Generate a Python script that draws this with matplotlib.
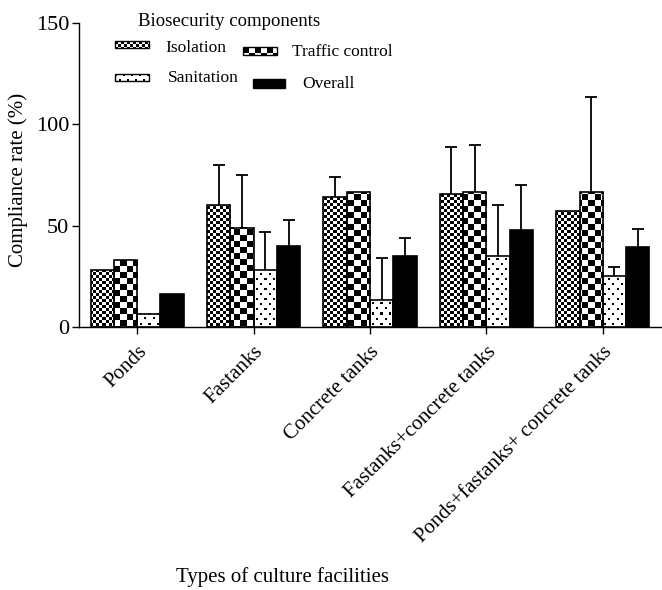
import numpy as np
import matplotlib
matplotlib.use("Agg")
import matplotlib.pyplot as plt
from matplotlib.patches import Rectangle

plt.rcParams["font.family"] = ["Liberation Serif", "DejaVu Serif"]

# data
facilities = ["Ponds", "Fastanks", "Concrete tanks",
              "Fastanks+concrete tanks", "Ponds+fastanks+ concrete tanks"]
components = ["Isolation", "Traffic control", "Sanitation", "Overall"]

isolation = [28, 60, 64, 65.5, 57]
traffic = [33, 49, 66.5, 66.5, 66.5]
sanitation = [6.5, 28, 13.5, 35, 25]
overall = [16.5, 40, 35, 48, 39.5]

nan = np.nan
isolation_sd = [nan, 20, 10, 23.5, nan]
traffic_sd = [nan, 26, nan, 23.5, 47]
sanitation_sd = [nan, 19, 20.5, 25, 4.5]
overall_sd = [nan, 13, 9, 22, 9]

means = [isolation, traffic, sanitation, overall]
sds = [isolation_sd, traffic_sd, sanitation_sd, overall_sd]
kinds = ["fine", "coarse", "dots", "solid"]


def pattern(kind, w, h, ox=0, oy=0):
    yy, xx = np.mgrid[0:h, 0:w]
    xx = xx + ox
    yy = yy + oy
    if kind == "fine":
        return ((xx // 3 + yy // 3) % 2).astype(float)
    if kind == "coarse":
        return ((xx // 6 + yy // 6) % 2).astype(float)
    if kind == "dots":
        shift = 4 * ((yy // 5) % 2)
        dot = ((yy % 5) < 2) & (((xx + shift) % 8) < 2)
        return np.where(dot, 0.0, 1.0)
    return np.zeros((h, w))


W, H = 662, 590
fig = plt.figure(figsize=(W / 100, H / 100), dpi=100)
ax = fig.add_axes([79 / W, 1 - 327 / H, 582 / W, 304 / H])

xlim = (-0.5, 4.5)
ylim = (0, 150)
ax.set_xlim(*xlim)
ax.set_ylim(*ylim)

x = np.arange(len(facilities))
width = 0.2

for i, (vals, err, kind) in enumerate(zip(means, sds, kinds)):
    pos = x + (i - 1.5) * width
    face = "black" if kind == "solid" else "none"
    bars = ax.bar(pos, vals, width, facecolor=face, edgecolor="black",
                  linewidth=1.2, zorder=3)
    if kind != "solid":
        for rect in bars:
            x0, w, h = rect.get_x(), rect.get_width(), rect.get_height()
            p0 = ax.transData.transform((x0, 0))
            p1 = ax.transData.transform((x0 + w, h))
            npx = max(int(round(p1[0] - p0[0])), 1)
            npy = max(int(round(p1[1] - p0[1])), 1)
            arr = pattern(kind, npx, npy, int(round(p0[0])), int(round(p0[1])))
            ax.imshow(arr, extent=(x0, x0 + w, 0, h), origin="lower",
                      cmap="gray", vmin=0, vmax=1, interpolation="nearest",
                      aspect="auto", zorder=2)
    vals = np.array(vals, dtype=float)
    err = np.array(err, dtype=float)
    eb = ax.errorbar(pos, vals, yerr=[np.zeros_like(err), err], fmt="none",
                     ecolor="black", elinewidth=1.3, capsize=4.5,
                     capthick=1.3, zorder=4)
    for cap in eb[1]:
        if np.allclose(cap.get_ydata(), vals):
            cap.set_visible(False)

ax.set_xlim(*xlim)
ax.set_ylim(*ylim)

for side in ["top", "right"]:
    ax.spines[side].set_visible(False)
for side in ["left", "bottom"]:
    ax.spines[side].set_linewidth(1.0)

ax.set_yticks([0, 50, 100, 150])
ax.set_xticks(x)
ax.set_xticklabels(facilities, rotation=45, ha="right", rotation_mode="anchor")
ax.tick_params(axis="both", direction="out", length=5, width=1.0,
               labelsize=15)
ax.tick_params(axis="x", pad=6)
ax.tick_params(axis="y", pad=2, labelsize=16)

fig.text(18 / W, 1 - 180 / H, "Compliance rate (%)", rotation=90,
         ha="center", va="center", fontsize=15)
fig.text(282 / W, 1 - 577 / H, "Types of culture facilities",
         ha="center", va="center", fontsize=15)

# legend drawn by hand, like the original layout
fig.text(138 / W, 1 - 22 / H, "Biosecurity components", ha="left",
         va="center", fontsize=13.5)

swatches = [
    ("fine", 115, 41, 34, 7, "Isolation", 165, 48),
    ("coarse", 243, 47, 34, 8, "Traffic control", 292, 52),
    ("dots", 115, 74, 34, 7, "Sanitation", 168, 78),
    ("solid", 253, 79, 32, 9, "Overall", 302, 84),
]
for kind, sx, sy, sw, sh, label, tx, ty in swatches:
    arr = pattern(kind, sw, sh)
    fig.figimage(arr, xo=sx, yo=H - sy - sh, cmap="gray", vmin=0, vmax=1,
                 origin="upper", zorder=5)
    fig.patches.append(Rectangle((sx / W, 1 - (sy + sh) / H), sw / W, sh / H,
                                 transform=fig.transFigure, facecolor="none",
                                 edgecolor="black", linewidth=1.0, zorder=6))
    fig.text(tx / W, 1 - ty / H, label, ha="left", va="center", fontsize=12.5)

fig.savefig("out.png", dpi=100)
